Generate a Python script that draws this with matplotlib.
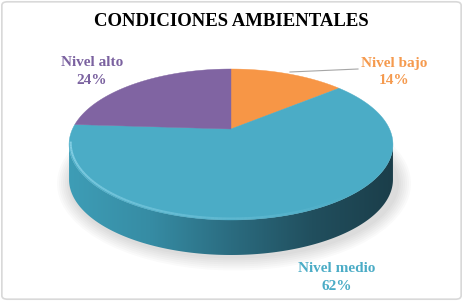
#!/usr/bin/env python3
"""3D-style pie chart (perspective) for condiciones ambientales."""

import numpy as np
import matplotlib
matplotlib.use("Agg")
import matplotlib.pyplot as plt
from matplotlib.patches import Polygon, Ellipse, FancyBboxPatch
from matplotlib.colors import LinearSegmentedColormap

TITLE = "CONDICIONES AMBIENTALES"
labels = ["Nivel bajo", "Nivel medio", "Nivel alto"]
values = [14, 62, 24]
colors = ["#F79646", "#4BACC6", "#8064A2"]
text_colors = ["#F59A4E", "#4BACC6", "#7B62A0"]

W, H = 463, 301

# perspective view of the disc (pixel space)
CX, CY = 231, 129      # where the disc centre lands
R = 158.5              # horizontal radius before perspective
PERSP = 0.2053         # perspective strength
A_Y = -45.83           # vertical scale of the projection
THICK = 35             # side height in px


def project(theta):
    u, v = np.cos(theta), np.sin(theta)
    d = 1 + PERSP * v
    return CX + R * u / d, (A_Y * v + CY) / d


fig = plt.figure(figsize=(W / 100, H / 100), dpi=100)
plt.rcParams["font.family"] = ["Liberation Serif", "DejaVu Serif"]
ax = fig.add_axes([0, 0, 1, 1])
ax.set_xlim(0, W)
ax.set_ylim(H, 0)
ax.axis("off")

# slice angles: start at 12 o'clock, clockwise
frac = np.array(values, dtype=float) / sum(values)
edges = np.pi / 2 - 2 * np.pi * np.concatenate([[0], np.cumsum(frac)])

# soft shadow under the disc
for k in range(7):
    ax.add_patch(Ellipse((CX + 3, 144.5 + THICK + 4), 330 + 4 * k, 150 + 4 * k,
                         facecolor="#000000", alpha=0.02, linewidth=0,
                         zorder=0.2))

# side of the disc: front silhouette between the two horizontal extremes
phi0 = np.arcsin(-PERSP)
front = np.linspace(np.pi - phi0, 2 * np.pi + phi0, 240)
sx, sy = project(front)
side_xy = np.vstack([np.column_stack([sx, sy]),
                     np.column_stack([sx[::-1], sy[::-1] + THICK])])
side = Polygon(side_xy, closed=True, facecolor="none", edgecolor="none",
               zorder=2)
ax.add_patch(side)
side_cmap = LinearSegmentedColormap.from_list(
    "side", ["#3E9DB6", "#368CA4", "#2B6C80", "#214F5E", "#1B3E4A"])
grad = np.linspace(0, 1, 256).reshape(1, -1)
img = ax.imshow(grad, cmap=side_cmap,
                extent=(sx.min(), sx.max(), sy.max() + THICK + 1, CY),
                aspect="auto", zorder=2, interpolation="bilinear")
img.set_clip_path(side)

# top face slices
for (a0, a1), col in zip(zip(edges[:-1], edges[1:]), colors):
    t = np.linspace(a0, a1, 200)
    px, py = project(t)
    xy = np.vstack([[CX, CY], np.column_stack([px, py])])
    ax.add_patch(Polygon(xy, closed=True, facecolor=col, edgecolor=col,
                         lw=0.3, zorder=3))

# light rim along the front edge of the top face
rim = np.linspace(np.pi * 1.06, np.pi * 1.72, 100)
rx, ry = project(rim)
rx = CX + (rx - CX) * 0.99
ry = ry - 1.5
for i in range(len(rim) - 1):
    fade = 1 - i / (len(rim) - 1)
    ax.plot(rx[i:i + 2], ry[i:i + 2], color="#92D8EC", alpha=0.8 * fade,
            lw=1.5, zorder=4, solid_capstyle="butt")

# title
ax.text(231, 22, TITLE, ha="center", va="center",
        fontsize=13.5, fontweight="bold", color="#000000")

# data labels
label_pos = [(394, 64, 81), (337, 269, 286), (92, 63, 80)]
for lab, val, col, (x, y1, y2) in zip(labels, values, text_colors, label_pos):
    ax.text(x, y1, lab, ha="center", va="center",
            fontsize=11, fontweight="bold", color=col)
    ax.text(x, y2, f"{val}%", ha="center", va="center",
            fontsize=11, fontweight="bold", color=col)

# leader line for the small slice
ax.plot([290, 358], [72, 69], color="#A6A6A6", lw=0.8, zorder=5)

# chart border
fig.add_artist(FancyBboxPatch((0.004, 0.006), 0.992, 0.988,
                              boxstyle="round,pad=0,rounding_size=0.012",
                              transform=fig.transFigure, facecolor="none",
                              edgecolor="#D9D9D9", lw=1.2))

fig.savefig("out.png", dpi=100)
